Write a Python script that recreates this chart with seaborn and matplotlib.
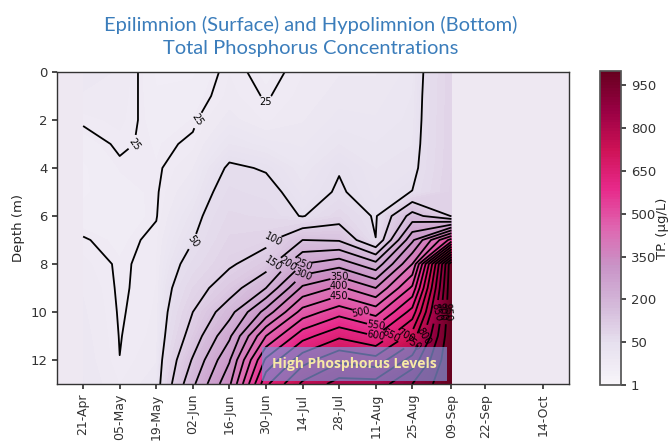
import numpy as np
import pandas as pd
import matplotlib
matplotlib.use("Agg")
import matplotlib.pyplot as plt
import matplotlib.dates as mdates
from matplotlib.colors import BoundaryNorm
from matplotlib.patches import Rectangle
import seaborn as sns

# Sampling depths (m) and dates
depths_m = list(range(14))
sample_dates = ["21-Apr", "05-May", "19-May", "02-Jun", "16-Jun", "30-Jun",
                "14-Jul", "28-Jul", "11-Aug", "25-Aug", "09-Sep"]
tick_dates = sample_dates + ["22-Sep", "14-Oct"]

# Total phosphorus profiles (ug/L), surface (0 m) to bottom (13 m)
tp_21_apr = [32, 30, 26, 22, 20, 20, 22, 25.5, 28, 30, 31, 32, 33, 34]
tp_05_may = [30, 29, 28, 26, 24, 23, 22, 23, 24.2, 24.2, 24.5, 24.8, 25.05, 27]
tp_19_may = [20, 21, 22, 23.5, 24, 24.3, 24.6, 26.5, 26.7, 27.2, 27.5, 28, 30, 33]
tp_02_jun = [20, 22, 24, 26, 30, 35, 42, 49, 62, 80, 100, 120, 155, 190]
tp_16_jun = [27, 28, 32, 40, 53, 62, 72, 82, 94, 125, 180, 240, 295, 340]
tp_30_jun = [22.9, 24.5, 26.5, 35, 48.5, 56, 68, 88, 125, 200, 320, 450, 560, 640]
tp_14_jul = [27, 28, 30, 33, 37, 42, 48, 150, 250, 360, 470, 580, 680, 760]
tp_28_jul = [30, 32, 35, 40, 49, 52, 77, 145, 280, 410, 530, 640, 740, 820]
tp_11_aug = [30, 32, 34, 37, 40, 42, 46, 50.5, 215, 350, 480, 600, 720, 820]
tp_25_aug = [35, 37, 38, 40, 43, 50.5, 170, 290, 400, 510, 620, 720, 820, 900]
tp_09_sep = [88, 88, 89, 89, 90, 92, 98, 520, 990, 995, 995, 995, 995, 995]

line_levels = [25] + list(range(50, 1000, 50))
cbar_ticks = [1, 50, 200, 350, 500, 650, 800, 950]

profiles = [tp_21_apr, tp_05_may, tp_19_may, tp_02_jun, tp_16_jun, tp_30_jun,
            tp_14_jul, tp_28_jul, tp_11_aug, tp_25_aug, tp_09_sep]
tp = pd.DataFrame(np.array(profiles, dtype=float).T, index=depths_m,
                  columns=sample_dates)

sns.set_theme(style="ticks", rc={
    "axes.edgecolor": "#333333",
    "xtick.color": "#333333",
    "ytick.color": "#333333",
    "xtick.major.size": 3.5,
    "ytick.major.size": 3.5,
})
plt.rcParams["font.family"] = ["DejaVu Sans"]

x_num = mdates.date2num(pd.to_datetime(sample_dates, format="%d-%b"))
tick_num = mdates.date2num(pd.to_datetime(tick_dates, format="%d-%b"))
X, Y = np.meshgrid(x_num, tp.index.values)

fig = plt.figure(figsize=(6.72, 4.43), dpi=100)
ax = fig.add_axes([57 / 672, 1 - 384 / 443, 512 / 672, 312 / 443])
cax = fig.add_axes([600 / 672, 1 - 385 / 443, 21 / 672, 314 / 443])

cmap = sns.color_palette("PuRd", as_cmap=True)
# Finer steps below 50 so every colorbar tick interval gets equal height
fill_levels = np.concatenate([np.linspace(1, 50, 16)[:-1], np.arange(50, 1001, 10)])
norm = BoundaryNorm(fill_levels, cmap.N)

ax.set_facecolor("#eee8f2")
cf = ax.contourf(X, Y, tp.values, levels=fill_levels, cmap=cmap, norm=norm)
cs = ax.contour(X, Y, tp.values, levels=line_levels, colors="black",
                linewidths=1.3)
ax.clabel(cs, fmt="%d", fontsize=7, inline=True, inline_spacing=3)

ax.set_ylim(13, 0)
ax.set_yticks(range(0, 13, 2))
ax.set_xticks(tick_num)
ax.set_xticklabels(tick_dates, rotation=90)
ax.set_xlim(tick_num[0] - 10, tick_num[-1] + 10)
ax.tick_params(axis="x", labelsize=9)
ax.tick_params(axis="y", labelsize=9.5)
ax.set_ylabel("Depth (m)", fontsize=9.5)
for s in ax.spines.values():
    s.set_linewidth(1.0)

cb = fig.colorbar(cf, cax=cax, ticks=cbar_ticks)
cb.ax.minorticks_off()
cb.ax.set_yticklabels([str(t) for t in cbar_ticks])
cb.ax.tick_params(labelsize=9.5)
cb.set_label("TP. (µg/L)", fontsize=9.5, labelpad=0)
cb.outline.set_edgecolor("#555555")

# Highlight box for the hypolimnion build-up
ax.add_patch(Rectangle((0.4004, 0.0096), 0.361, 0.109, transform=ax.transAxes,
                       facecolor="#7f8fd0", alpha=0.72, edgecolor="none",
                       zorder=5))
ax.text(0.4004 + 0.361 / 2, 0.0096 + 0.109 / 2, "High Phosphorus Levels",
        transform=ax.transAxes, ha="center", va="center", fontsize=10,
        fontweight="bold", color="#f7e9a6", family=["Open Sans", "DejaVu Sans"],
        zorder=6)

fig.text(0.462, 0.918,
         "Epilimnion (Surface) and Hypolimnion (Bottom)\nTotal Phosphorus Concentrations",
         ha="center", va="center", color="#3b7dbb", fontsize=14.5,
         family=["Lato", "DejaVu Sans"], linespacing=1.4)

fig.savefig("out.png", dpi=100)
